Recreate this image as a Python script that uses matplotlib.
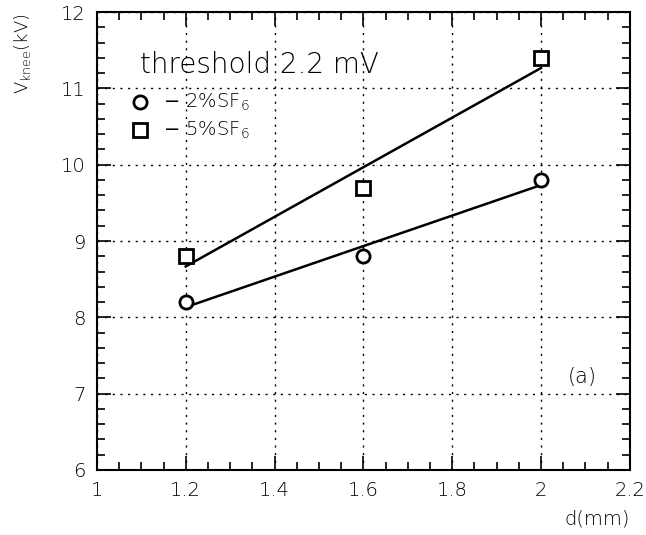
import numpy as np
import matplotlib
matplotlib.use("Agg")
import matplotlib.pyplot as plt
from matplotlib.ticker import MultipleLocator

d = [1.2, 1.6, 2.0]
v_2pct = [8.2, 8.8, 9.8]
v_5pct = [8.8, 9.7, 11.4]
xticks = [1, 1.2, 1.4, 1.6, 1.8, 2, 2.2]
xticklabels = ["1", "1.2", "1.4", "1.6", "1.8", "2", "2.2"]
yticks = [6, 7, 8, 9, 10, 11, 12]

plt.rcParams['font.family'] = ['DejaVu Sans']
fig = plt.figure(figsize=(6.46, 5.35), dpi=100)
ax = fig.add_axes([0.150, 0.1215, 0.825, 0.856])
ax.set_xlim(1, 2.2)
ax.set_ylim(6, 12)

for y, fmt in ((v_2pct, 'o'), (v_5pct, 's')):
    p = np.polyfit(d, y, 1)
    xs = np.array([d[0], d[-1]])
    ax.plot(xs, np.polyval(p, xs), color='black', lw=1.8, zorder=3)
    ax.plot(d, y, fmt, ms=9.5, mfc='white', mec='black', mew=2, zorder=4)

ax.set_xticks(xticks)
ax.set_xticklabels(xticklabels)
ax.set_yticks(yticks)
ax.xaxis.set_minor_locator(MultipleLocator(0.05))
ax.yaxis.set_minor_locator(MultipleLocator(0.2))
ax.tick_params(which='both', direction='in', top=True, right=True, width=1.2, color='black')
ax.tick_params(which='major', length=10, labelsize=14, pad=8)
ax.tick_params(which='minor', length=6)
for lab in ax.get_xticklabels() + ax.get_yticklabels():
    lab.set_fontweight('light')
for s in ax.spines.values():
    s.set_linewidth(1.5)
ax.grid(True, which='major', linestyle=(0, (1.5, 4)), color='black', lw=1)

fig.text(0.035, 0.975, r'V$_{\mathregular{knee}}$(kV)', rotation=90, ha='center', va='top',
         fontsize=13, fontweight='light')
fig.text(0.975, 0.012, 'd(mm)', ha='right', va='bottom', fontsize=14, fontweight='light')
ax.text(1.097, 11.31, 'threshold 2.2 mV', fontsize=20, fontweight='light', va='center')
ax.plot([1.097], [10.82], 'o', ms=9.5, mfc='white', mec='black', mew=2, clip_on=False)
ax.plot([1.097], [10.45], 's', ms=9.5, mfc='white', mec='black', mew=2, clip_on=False)
ax.text(1.148, 10.82, r'$-$ 2%SF$_{\mathregular{6}}$', fontsize=14, fontweight='light', va='center')
ax.text(1.148, 10.45, r'$-$ 5%SF$_{\mathregular{6}}$', fontsize=14, fontweight='light', va='center')
ax.text(2.06, 7.22, '(a)', fontsize=15, fontweight='light', va='center')

fig.savefig('out.png', dpi=100)
